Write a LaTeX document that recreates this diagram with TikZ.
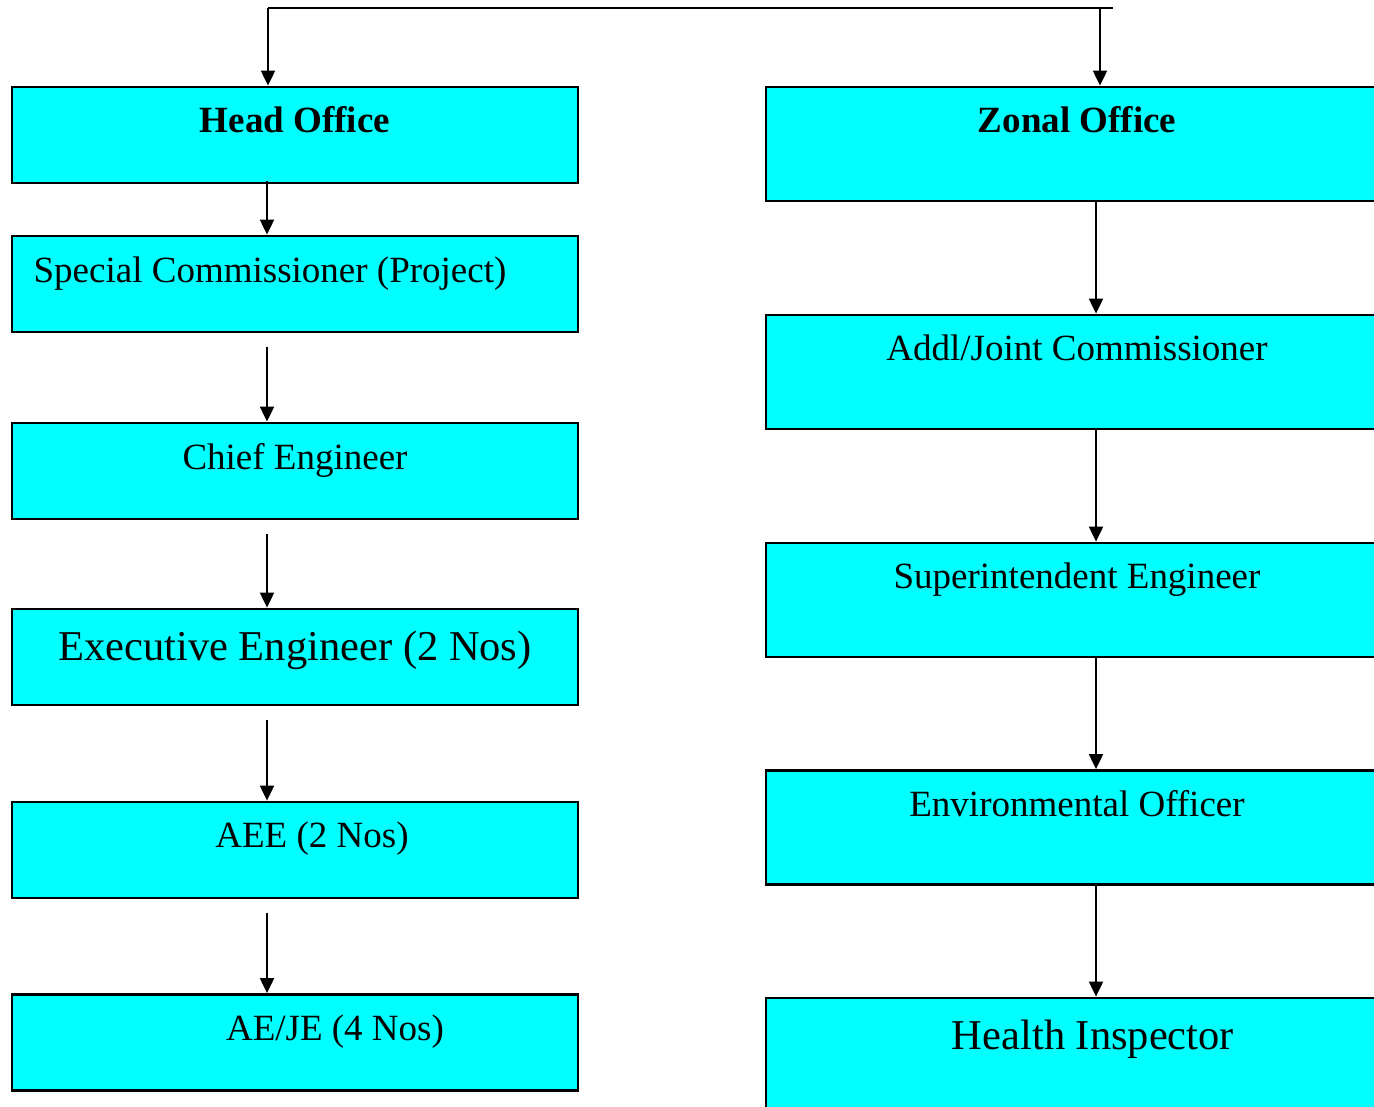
\documentclass[tikz,border=0pt]{standalone}
\usepackage{fontspec}
\setmainfont{Liberation Serif}
\usetikzlibrary{arrows.meta}
\definecolor{aqua}{RGB}{0,255,255}

\tikzset{
  hobox/.style={draw=black, line width=2.8pt, fill=aqua, minimum width=566pt, minimum height=96pt, inner sep=0pt},
  zobox/.style={hobox, minimum width=622pt, minimum height=114pt},
  txt/.style={anchor=base, inner sep=0pt, font=\fontsize{37}{44}\selectfont},
  bigtxt/.style={txt, font=\fontsize{42.5}{50}\selectfont},
}

\begin{document}
\begin{tikzpicture}[x=1pt,y=-1pt, >={Triangle[length=15pt,width=14pt]}, line width=2pt]
  \useasboundingbox (0,0) rectangle (1374,1107);
  \clip (0,0) rectangle (1374,1107);
  % head office column
  \node [hobox] (HO) at (295,135) {};
  \node [hobox] (SC) at (295,284) {};
  \node [hobox] (CE) at (295,471) {};
  \node [hobox] (EE) at (295,657) {};
  \node [hobox] (AEE) at (295,850) {};
  \node [hobox] (AEJE) at (295,1042.5) {};
  \node [txt, font=\fontsize{37}{44}\selectfont\bfseries] at ([yshift=-47pt]HO.north) {Head Office};
  \node [txt] at ([xshift=-25pt,yshift=-48pt]SC.north) {Special Commissioner (Project)};
  \node [txt] at ([yshift=-48pt]CE.north) {Chief Engineer};
  \node [bigtxt] at ([yshift=-53pt]EE.north) {Executive Engineer (2 Nos)};
  \node [txt] at ([xshift=17pt,yshift=-47pt]AEE.north) {AEE (2 Nos)};
  \node [txt] at ([xshift=40pt,yshift=-47pt]AEJE.north) {AE/JE (4 Nos)};
  % zonal office column
  \node [zobox] (ZO) at (1077,144) {};
  \node [zobox] (AJC) at (1077,372) {};
  \node [zobox] (SE) at (1077,600) {};
  \node [zobox] (EO) at (1077,827.5) {};
  \node [zobox] (HI) at (1077,1055) {};
  \node [txt, font=\fontsize{37}{44}\selectfont\bfseries] at ([yshift=-47pt]ZO.north) {Zonal Office};
  \node [txt] at ([yshift=-47pt]AJC.north) {Addl/Joint Commissioner};
  \node [txt] at ([yshift=-47pt]SE.north) {Superintendent Engineer};
  \node [txt] at ([yshift=-47pt]EO.north) {Environmental Officer};
  \node [bigtxt] at ([xshift=16pt,yshift=-53pt]HI.north) {Health Inspector};
  % top connector
  \coordinate (T1) at (268,8);
  \coordinate (T2) at (1113,8);
  \coordinate (T3) at (1100,8);
  \draw (T1) -- (T2);
  \draw [->] (T1) -- (T1 |- HO.north);
  \draw [->] (T3) -- (T3 |- ZO.north);
  % arrows down
  \draw [->] ([xshift=-28pt,yshift=3pt]HO.south) -- ([xshift=-28pt]SC.north);
  \foreach \A/\B in {SC/CE,CE/EE,EE/AEE,AEE/AEJE}
    \draw [->, shorten <=14pt] ([xshift=-28pt]\A.south) -- ([xshift=-28pt]\B.north);
  \foreach \A/\B in {ZO/AJC,AJC/SE,SE/EO,EO/HI}
    \draw [->] ([xshift=19pt]\A.south) -- ([xshift=19pt]\B.north);
\end{tikzpicture}
\end{document}
